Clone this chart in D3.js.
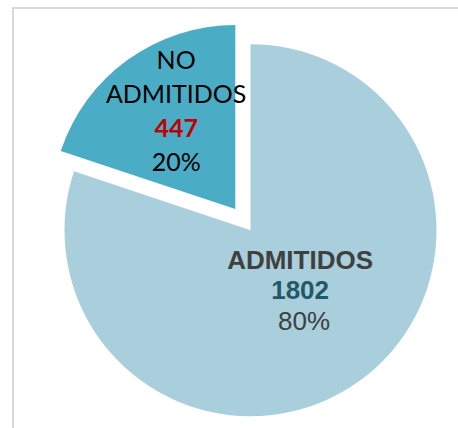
<!DOCTYPE html>
<html>
<head>
<meta charset="utf-8">
<script src="https://cdn.jsdelivr.net/npm/d3@7"></script>
<style>
  body { margin: 0; background: #fff; }
</style>
</head>
<body>
<script>
// data
const categories = ["ADMITIDOS", "NO ADMITIDOS"];
const values = [1802, 447];
const percents = ["80%", "20%"];
const colors = ["#A9CFDC", "#4BACC6"];

const width = 458, height = 428;
const cx = 250.5, cy = 230.2;
const radius = [186, 184];
const explode = [0, 26];

const svg = d3.select("body")
  .append("svg")
    .attr("width", width)
    .attr("height", height);

// chart frame (only the top and left edges are inside the picture)
svg.append("rect")
  .attr("x", 13).attr("y", 8)
  .attr("width", 480).attr("height", 460)
  .attr("fill", "none")
  .attr("stroke", "#D9D9D9")
  .attr("stroke-width", 2);

const pie = d3.pie().sort(null).value(d => d);
const arcs = pie(values);

function offsetOf(d, i) {
  const mid = (d.startAngle + d.endAngle) / 2;
  return [Math.sin(mid) * explode[i], -Math.cos(mid) * explode[i]];
}

const g = svg.append("g").attr("transform", `translate(${cx},${cy})`);

g.selectAll(".slice")
  .data(arcs)
  .enter()
  .append("path")
    .attr("class", "slice")
    .attr("transform", (d, i) => `translate(${offsetOf(d, i)})`)
    .attr("d", (d, i) => d3.arc().innerRadius(0).outerRadius(radius[i])(d))
    .attr("fill", (d, i) => colors[i]);

// labels sit on a ring inside each slice
const labelR = [78, 108];
function anchor(d, i) {
  const o = offsetOf(d, i);
  const c = d3.arc().innerRadius(labelR[i]).outerRadius(labelR[i]).centroid(d);
  return [o[0] + c[0], o[1] + c[1]];
}

// big slice
const a0 = anchor(arcs[0], 0);
const t0 = g.append("text")
  .attr("text-anchor", "middle")
  .attr("font-family", "'Liberation Sans', Arial, sans-serif")
  .attr("font-size", 26);
t0.append("tspan")
  .attr("x", a0[0] + 4).attr("y", a0[1] - 24)
  .attr("font-weight", "bold").attr("fill", "#404040")
  .text(categories[0]);
t0.append("tspan")
  .attr("x", a0[0] + 4).attr("y", a0[1] + 6)
  .attr("font-weight", "bold").attr("fill", "#215967")
  .text(values[0]);
t0.append("tspan")
  .attr("x", a0[0] + 8).attr("y", a0[1] + 37)
  .attr("fill", "#404040")
  .text(percents[0]);

// exploded slice
const a1 = anchor(arcs[1], 1);
const t1 = g.append("text")
  .attr("text-anchor", "middle")
  .attr("font-family", "Lato, 'Open Sans', sans-serif")
  .attr("font-size", 25)
  .attr("fill", "#000");
const words = categories[1].split(" ");
const lines1 = [
  {text: words[0], color: "#000", bold: false},
  {text: words[1], color: "#000", bold: false},
  {text: values[1], color: "#C00000", bold: true},
  {text: percents[1], color: "#000", bold: false}
];
t1.selectAll("tspan")
  .data(lines1)
  .enter()
  .append("tspan")
    .attr("x", a1[0] + 4)
    .attr("y", (d, i) => a1[1] - 52 + i * 34)
    .attr("fill", d => d.color)
    .attr("font-weight", d => d.bold ? "bold" : "normal")
    .text(d => d.text);
</script>
</body>
</html>
